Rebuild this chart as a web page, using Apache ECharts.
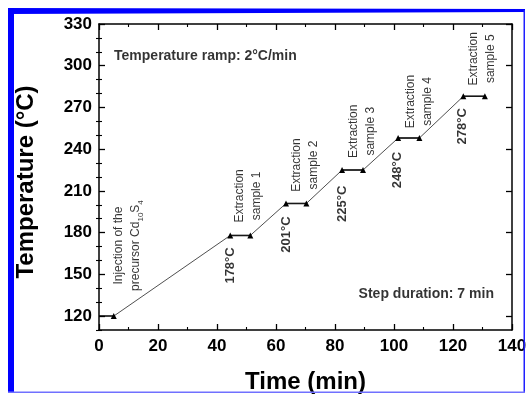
<!DOCTYPE html>
<html><head><meta charset="utf-8">
<script src="https://cdn.jsdelivr.net/npm/echarts@6/dist/echarts.min.js"></script>
<style>html,body{margin:0;padding:0;background:#fff}#c{width:527px;height:394px}</style>
</head><body><div id="c"></div>
<script>
// ---- data ----
const timeMin = [5, 44.5, 51.3, 63.4, 70.3, 82.4, 89.5, 101.4, 108.6, 123.5, 130.8];
const tempC   = [120, 178, 178, 201, 201, 225, 225, 248, 248, 278, 278];
const holdStart = [0, 44.5, 63.4, 82.4, 101.4, 123.5];
const holdEnd   = [5, 51.3, 70.3, 89.5, 108.6, 130.8];
const holdTemp  = [120, 178, 201, 225, 248, 278];
const xTickLabels = [0, 20, 40, 60, 80, 100, 120, 140];
const yTickLabels = [120, 150, 180, 210, 240, 270, 300, 330];
const yMinorTicks = [110, 130, 140, 160, 170, 190, 200, 220, 230, 250, 260, 280, 290, 310, 320];

const noteText = ['{n|Injection of the}\n{n|precursor Cd}{s|10}{n|S}{s|4}', 'Extraction\nsample 1', 'Extraction\nsample 2',
                  'Extraction\nsample 3', 'Extraction\nsample 4', 'Extraction\nsample 5'];
const noteX = [9.7, 50.5, 70.0, 89.2, 108.4, 130.0];
const noteY = [170.7, 206.4, 228.6, 252.9, 274.3, 305];

const stepText = ['178°C', '201°C', '225°C', '248°C', '278°C'];
const stepX = [44.5, 63.5, 82.6, 101.3, 123.3];
const stepY = [156.4, 178.6, 200.7, 225, 256.4];

const infoText = ['Temperature ramp: 2°C/min', 'Step duration: 7 min'];
const infoX = [5.1, 88];
const infoY = [307, 135.7];

// ---- chart ----
const FF = '"Liberation Sans", Arial, sans-serif';
const chart = echarts.init(document.getElementById('c'));
const blk = '#000';
function xAx(pos, labels) {
  return {
    type: 'value', min: 0, max: 140, interval: 20, position: pos,
    axisLine: { show: true, onZero: false, lineStyle: { color: blk, width: 1.5 } },
    axisTick: { show: true, inside: true, length: 6, lineStyle: { color: blk, width: 1.3 } },
    minorTick: { show: true, splitNumber: 2, length: 3, lineStyle: { color: blk, width: 1.1 } },
    axisLabel: { show: labels, fontSize: 17, fontWeight: 'bold', color: blk, fontFamily: FF, margin: 8 },
    splitLine: { show: false }, minorSplitLine: { show: false },
    name: labels ? 'Time (min)' : '', nameLocation: 'middle', nameGap: 40,
    nameTextStyle: { fontSize: 24, fontWeight: 'bold', color: blk, fontFamily: FF }
  };
}
function yMajor(pos, labels) {
  return {
    type: 'value', min: 110, max: 330, position: pos,
    axisLine: { show: true, onZero: false, lineStyle: { color: blk, width: 1.5 } },
    axisTick: { show: true, inside: true, length: 6, customValues: yTickLabels, lineStyle: { color: blk, width: 1.3 } },
    axisLabel: { show: labels, customValues: yTickLabels, fontSize: 17, fontWeight: 'bold', color: blk, fontFamily: FF, margin: 7 },
    splitLine: { show: false },
    name: labels ? 'Temperature (°C)' : '', nameLocation: 'middle', nameGap: 61, nameRotate: 90,
    nameTextStyle: { fontSize: 24, fontWeight: 'bold', color: blk, fontFamily: FF, padding: [0, 10, 0, 0] }
  };
}
function yMinor(pos) {
  return {
    type: 'value', min: 110, max: 330, position: pos,
    axisLine: { show: false },
    axisTick: { show: true, inside: true, length: 3, customValues: yMinorTicks, lineStyle: { color: blk, width: 1.1 } },
    axisLabel: { show: false }, splitLine: { show: false }
  };
}

const series = [];
// ramps (thin line through all the points) with triangle markers
series.push({
  type: 'line', xAxisIndex: 0, yAxisIndex: 0,
  data: timeMin.map((t, i) => [t, tempC[i]]),
  symbol: 'triangle', symbolSize: 6, showSymbol: true,
  itemStyle: { color: blk }, lineStyle: { color: '#222', width: 0.8 },
  animation: false, z: 3
});
// holds (thicker horizontal segments)
holdStart.forEach((s, i) => {
  series.push({
    type: 'line', xAxisIndex: 0, yAxisIndex: 0,
    data: [[s, holdTemp[i]], [holdEnd[i], holdTemp[i]]],
    symbol: 'none', lineStyle: { color: blk, width: 1.5 }, animation: false, z: 2
  });
});
// annotation texts
series.push({
  type: 'scatter', xAxisIndex: 0, yAxisIndex: 0, symbolSize: 0, animation: false, silent: true,
  data: noteText.map((t, i) => ({ value: [noteX[i], noteY[i]], name: t })),
  label: {
    show: true, position: 'inside', rotate: 90, align: 'center', verticalAlign: 'middle',
    formatter: p => p.name, fontSize: 12, lineHeight: 17, color: blk, fontFamily: FF,
    rich: {
      n: { fontSize: 12, lineHeight: 17, color: blk, fontFamily: FF, verticalAlign: 'middle' },
      s: { fontSize: 8, lineHeight: 17, color: blk, fontFamily: FF, verticalAlign: 'bottom', padding: [6, 0, 0, 0] }
    }
  }
});
series.push({
  type: 'scatter', xAxisIndex: 0, yAxisIndex: 0, symbolSize: 0, animation: false, silent: true,
  data: stepText.map((t, i) => ({ value: [stepX[i], stepY[i]], name: t })),
  label: {
    show: true, position: 'inside', rotate: 90, align: 'center', verticalAlign: 'middle',
    formatter: p => p.name, fontSize: 13, fontWeight: 'bold', color: blk, fontFamily: FF
  }
});
series.push({
  type: 'scatter', xAxisIndex: 0, yAxisIndex: 0, symbolSize: 0, animation: false, silent: true,
  data: infoText.map((t, i) => ({ value: [infoX[i], infoY[i]], name: t })),
  label: {
    show: true, position: 'inside', align: 'left', verticalAlign: 'middle',
    formatter: p => p.name, fontSize: 14, fontWeight: 'bold', color: blk, fontFamily: FF
  }
});

chart.setOption({
  animation: false,
  backgroundColor: '#fff',
  grid: { left: 99, right: 15, top: 24, bottom: 64, containLabel: false, outerBoundsMode: 'none' },
  xAxis: [xAx('bottom', true), xAx('top', false)],
  yAxis: [yMajor('left', true), yMinor('left'), yMajor('right', false), yMinor('right')],
  series: series,
  graphic: [
    { type: 'polygon', shape: { points: [[8, 8], [525, 9], [525, 12], [8, 14]] }, style: { fill: '#0000ff' }, z: 100 },
    { type: 'rect', shape: { x: 8, y: 8, width: 6, height: 385 }, style: { fill: '#0000ff' }, z: 100 },
    { type: 'rect', shape: { x: 523.5, y: 10, width: 1.5, height: 383 }, style: { fill: '#2020ff' }, z: 100 },
    { type: 'rect', shape: { x: 8, y: 391.5, width: 517, height: 1.5 }, style: { fill: '#7070ff' }, z: 100 }
  ]
});
</script>
</body></html>
